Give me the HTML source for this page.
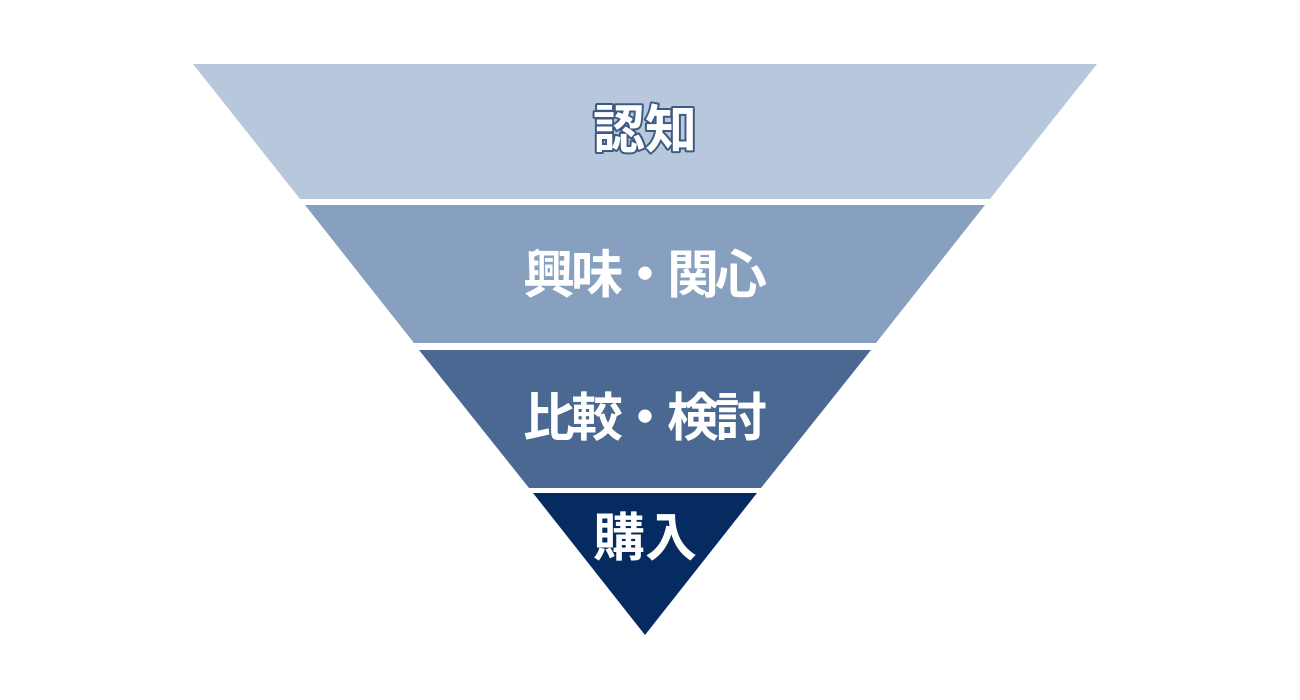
<!DOCTYPE html>
<html><head><meta charset="utf-8"><style>
html,body{margin:0;padding:0;background:#fff;}
svg{display:block}
text{font-family:"Liberation Sans","Noto Sans CJK JP",sans-serif;font-weight:700;font-size:52px;text-anchor:middle;dominant-baseline:central;fill:#fff}
</style></head><body>
<svg width="1300" height="700" viewBox="0 0 1300 700">
<polygon points="193,64 1097,64 990,199 300,199" fill="#b8c8dc"/>
<polygon points="305,205 985,205 876,343 414,343" fill="#87a0c0"/>
<polygon points="419,350 871,350 761,488 529,488" fill="#4a6892"/>
<polygon points="533,493 757,493 645,635" fill="#062b60"/>
<text x="645" y="131" stroke="#3d5a85" stroke-width="4" paint-order="stroke" stroke-linejoin="round">認知</text>
<text x="645" y="276" textLength="244" lengthAdjust="spacing">興味・関心</text>
<text x="645" y="419" textLength="244" lengthAdjust="spacing">比較・検討</text>
<text x="645" y="539">購入</text>
</svg>
</body></html>
